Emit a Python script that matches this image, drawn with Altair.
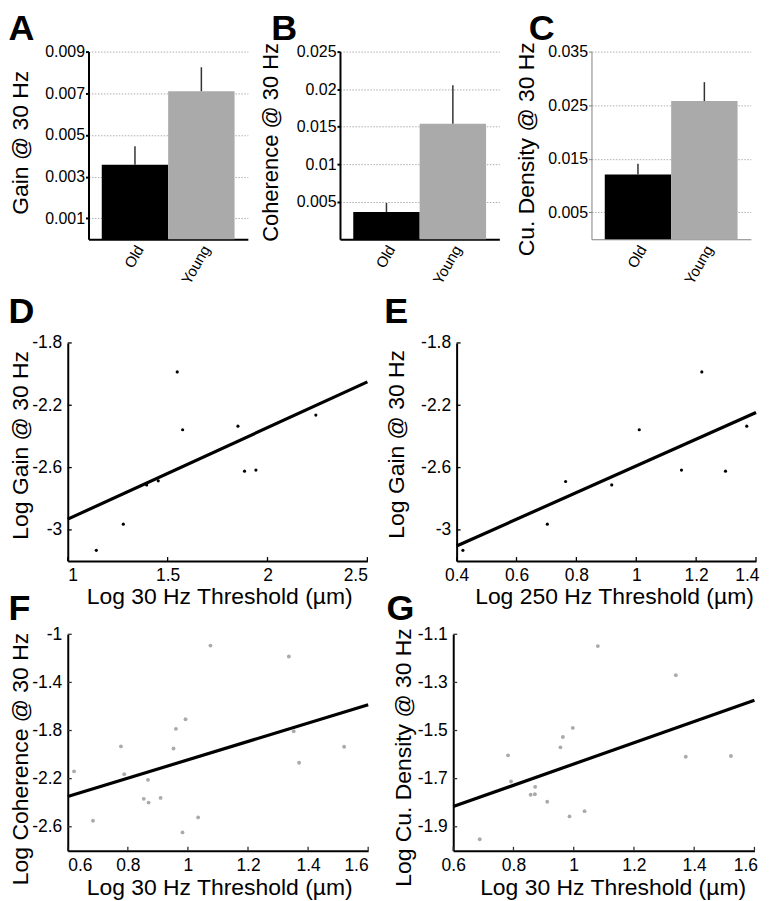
import altair as alt
import pandas as pd

FONT = "Liberation Sans"

# ---------------- data ----------------
groups = ["Old", "Young"]
bar_colors = ["#000000", "#aaaaaa"]

gain_mean = [0.00357, 0.00710]
gain_top = [0.00446, 0.00825]
gain_ticks = [0.001, 0.003, 0.005, 0.007, 0.009]

coh_mean = [0.00364, 0.01539]
coh_top = [0.00483, 0.02053]
coh_ticks = [0.005, 0.01, 0.015, 0.02, 0.025]

cud_mean = [0.01208, 0.02577]
cud_top = [0.01406, 0.02930]
cud_ticks = [0.005, 0.015, 0.025, 0.035]

d_x = [1.143, 1.278, 1.395, 1.453, 1.548, 1.575, 1.852, 1.885, 1.942, 2.242]
d_y = [-3.131, -2.963, -2.711, -2.685, -1.986, -2.357, -2.334, -2.623, -2.616, -2.263]
d_fit_x = [1.0, 2.5]
d_fit_y = [-2.931, -2.050]

e_x = [0.421, 0.703, 0.764, 0.918, 1.010, 1.151, 1.219, 1.298, 1.369]
e_y = [-3.131, -2.963, -2.689, -2.711, -2.357, -2.616, -1.986, -2.623, -2.334]
e_fit_x = [0.4, 1.4]
e_fit_y = [-3.103, -2.246]

f_x = [0.621, 0.684, 0.777, 0.788, 0.853, 0.867, 0.869, 0.909, 0.952, 0.960,
       0.982, 0.992, 1.034, 1.075, 1.336, 1.352, 1.370, 1.520]
f_y = [-2.139, -2.550, -1.932, -2.163, -2.368, -2.210, -2.399, -2.360, -1.949, -1.786,
       -2.647, -1.706, -2.522, -1.094, -1.185, -1.806, -2.068, -1.935]
f_fit_x = [0.6, 1.6]
f_fit_y = [-2.349, -1.585]

g_x = [0.688, 0.782, 0.792, 0.857, 0.871, 0.872, 0.912, 0.956, 0.964, 0.986,
       0.997, 1.036, 1.080, 1.339, 1.372, 1.522]
g_y = [-1.952, -1.603, -1.712, -1.767, -1.765, -1.734, -1.796, -1.570, -1.527, -1.857,
       -1.489, -1.835, -1.149, -1.270, -1.609, -1.606]
g_fit_x = [0.6, 1.6]
g_fit_y = [-1.816, -1.374]

x30_ticks = [0.6, 0.8, 1, 1.2, 1.4, 1.6]
d_x_ticks = [1, 1.5, 2, 2.5]
e_x_ticks = [0.4, 0.6, 0.8, 1, 1.2, 1.4]
de_y_ticks = [-3, -2.6, -2.2, -1.8]
f_y_ticks = [-2.6, -2.2, -1.8, -1.4, -1]
g_y_ticks = [-1.9, -1.7, -1.5, -1.3, -1.1]

LABEL = "'' + datum.value"


def letter_layer(letter, lx, ly):
    return alt.Chart(pd.DataFrame({"t": [letter]})).mark_text(
        font=FONT, fontSize=36, fontWeight="bold", align="left",
        baseline="alphabetic", color="black"
    ).encode(x=alt.value(lx), y=alt.value(ly), text="t:N")


def frame_layer(fx, fy1, fy2):
    return alt.Chart(pd.DataFrame({"f": [0]})).mark_rule(
        strokeOpacity=0, strokeWidth=0
    ).encode(x=alt.value(fx), y=alt.value(fy1), y2=alt.value(fy2))


def spacer(w):
    return alt.Chart(pd.DataFrame({"f": [0]})).mark_rule(
        strokeOpacity=0, strokeWidth=0
    ).encode(x=alt.value(5), y=alt.value(20), y2=alt.value(21)).properties(
        width=w, height=1)


def bar_panel(letter, mean, top, ymax, ticks, title, tx, ty, lx, ly,
              axis_color, axis_width, w, h, title_size=23, frame=None):
    df = pd.DataFrame({"group": groups, "mean": mean, "top": top})
    xenc = alt.X(
        "group:N", sort=groups,
        scale=alt.Scale(domain=groups, paddingInner=0, paddingOuter=0.2),
        axis=alt.Axis(title=None, labelAngle=300, labelAlign="right",
                      labelBaseline="middle", labelFontSize=15, labelPadding=7,
                      labelOffset=5, ticks=False, tickSize=0,
                      domainColor=axis_color, domainWidth=axis_width))
    yenc = alt.Y(
        "mean:Q",
        scale=alt.Scale(domain=[0, ymax], nice=False, zero=False),
        axis=alt.Axis(values=ticks, labelExpr=LABEL, title=title,
                      titleX=tx, titleY=ty, titleAngle=270, titleAlign="center",
                      titleBaseline="middle", titleFontSize=title_size,
                      grid=True, gridColor="#9a9a9a", gridDash=[1.5, 1.5],
                      gridWidth=0.8, tickSize=3, tickColor=axis_color,
                      tickWidth=axis_width, domainColor=axis_color,
                      domainWidth=axis_width, labelFontSize=16, labelPadding=1))
    bars = alt.Chart(df).mark_bar().encode(
        x=xenc, y=yenc,
        color=alt.Color("group:N", scale=alt.Scale(domain=groups, range=bar_colors),
                        legend=None))
    err = alt.Chart(df).mark_rule(color="#333333", strokeWidth=1.5).encode(
        x=alt.X("group:N", sort=groups), y="top:Q", y2="mean:Q")
    layers = [bars, err, letter_layer(letter, lx, ly)]
    if frame is not None:
        layers.append(frame_layer(*frame))
    return alt.layer(*layers).properties(width=w, height=h)


def scatter_panel(letter, xs, ys, fitx, fity, xdom, xticks, ydom, yticks,
                  xtitle, ytitle, w, h, pcolor, psize, tx, ty, xtx, xty,
                  lx, ly, tick_color, last_tick=None):
    pts = pd.DataFrame({"x": xs, "y": ys})
    fit = pd.DataFrame({"x": fitx, "y": fity})
    xt = pd.DataFrame({"x": xticks})
    yt = pd.DataFrame({"y": yticks})
    extra = {}
    if last_tick is not None:
        test = "datum.value >= %s" % last_tick
        extra = dict(labelAlign=alt.condition(test, alt.value("right"), alt.value("center")),
                     labelOffset=alt.condition(test, alt.value(3), alt.value(0)))
    xenc = alt.X(
        "x:Q", scale=alt.Scale(domain=xdom, nice=False, zero=False),
        axis=alt.Axis(values=xticks, labelExpr=LABEL, title=xtitle,
                      titleX=xtx, titleY=xty, titleAlign="center",
                      titleBaseline="middle", titleFontSize=23,
                      ticks=False, tickSize=0, labelFontSize=17.5, labelPadding=5.5,
                      domainColor="black", domainWidth=2, grid=False, **extra))
    yenc = alt.Y(
        "y:Q", scale=alt.Scale(domain=ydom, nice=False, zero=False),
        axis=alt.Axis(values=yticks, labelExpr=LABEL, title=ytitle,
                      titleX=tx, titleY=ty, titleAngle=270, titleAlign="center",
                      titleBaseline="middle", titleFontSize=23,
                      ticks=False, tickSize=0, labelFontSize=17.5, labelPadding=6,
                      domainColor="black", domainWidth=2, grid=False))
    line = alt.Chart(fit).mark_line(color="black", strokeWidth=3.2).encode(x=xenc, y=yenc)
    points = alt.Chart(pts).mark_circle(size=psize, color=pcolor, opacity=1).encode(
        x="x:Q", y="y:Q")
    xtk = alt.Chart(xt).mark_rule(color=tick_color, strokeWidth=1.3).encode(
        x="x:Q", y=alt.value(h), y2=alt.value(h - 4))
    ytk = alt.Chart(yt).mark_rule(color=tick_color, strokeWidth=1.3).encode(
        y="y:Q", x=alt.value(0), x2=alt.value(4))
    layers = [line, points, xtk, ytk, letter_layer(letter, lx, ly)]
    return alt.layer(*layers).properties(width=w, height=h)


H1 = 188.4
H2 = 219
H3 = 217.4

A = bar_panel("A", gain_mean, gain_top, 0.009, gain_ticks, "Gain @ 30 Hz",
              -68.5, 91, -80.4, -12, "black", 2, 160, H1,
              frame=(-80.4, -41.3, -40.3))
B = bar_panel("B", coh_mean, coh_top, 0.025, coh_ticks, "Coherence @ 30 Hz",
              -70, 90.7, -69, -12, "black", 2, 160, H1, title_size=22)
C = bar_panel("C", cud_mean, cud_top, 0.035, cud_ticks, "Cu. Density @ 30 Hz",
              -65.3, 97.5, -63, -12, "#808080", 1, 160, H1)

xt30 = "Log 30 Hz Threshold (\u00b5m)"
xt250 = "Log 250 Hz Threshold (\u00b5m)"

D = scatter_panel("D", d_x, d_y, d_fit_x, d_fit_y, [1, 2.5], d_x_ticks,
                  [-3.2, -1.8], de_y_ticks, xt30, "Log Gain @ 30 Hz",
                  300.8, H2, "black", 10, -47.5, 102.3, 152, 36,
                  -59.6, -19.7, "black")
E = scatter_panel("E", e_x, e_y, e_fit_x, e_fit_y, [0.4, 1.4], e_x_ticks,
                  [-3.2, -1.8], de_y_ticks, xt250, "Log Gain @ 30 Hz",
                  300.6, H2, "black", 10, -60.7, 101.3, 158, 36,
                  -72.7, -19.7, "black", last_tick=1.39)
F = scatter_panel("F", f_x, f_y, f_fit_x, f_fit_y, [0.6, 1.6], x30_ticks,
                  [-2.8, -1], f_y_ticks, xt30, "Log Coherence @ 30 Hz",
                  301.6, H3, "#aaaaaa", 15, -47.5, 124.7, 152, 37,
                  -59.6, -14.3, "#333333")
G = scatter_panel("G", g_x, g_y, g_fit_x, g_fit_y, [0.6, 1.6], x30_ticks,
                  [-2.0, -1.1], g_y_ticks, xt30, "Log Cu. Density @ 30 Hz",
                  302.4, H3, "#aaaaaa", 15, -50.3, 123.2, 160, 37,
                  -67, -14.3, "#333333", last_tick=1.59)

# top row sits 20.8 px to the right of the lower rows: a small leading spacer
row1 = alt.hconcat(
    spacer(20),
    alt.hconcat(A, B, C, spacing=92.5, bounds="flush"),
    spacing=0.8, bounds="flush")
row2 = alt.hconcat(D, E, spacing=89.4, bounds="flush")
row3 = alt.hconcat(F, G, spacing=85, bounds="flush")

chart = alt.vconcat(row1, row2, row3, spacing=292.5, bounds="flush").properties(
    padding=0
).configure(font=FONT).configure_view(stroke=None).configure_axis(
    labelFont=FONT, titleFont=FONT, labelColor="black", titleColor="black",
    titleFontWeight="normal"
)

chart.save("out.html", embed_options={"renderer": "svg", "actions": False})
